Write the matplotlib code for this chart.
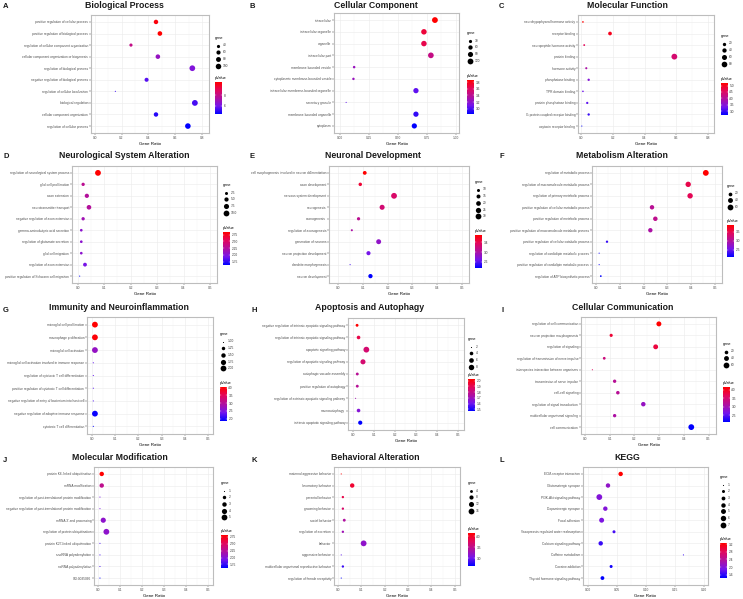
import numpy as np
import matplotlib.pyplot as plt
from matplotlib.colors import LinearSegmentedColormap, Normalize
from matplotlib.cm import ScalarMappable

plt.rcParams["font.family"] = ["Liberation Sans", "DejaVu Sans"]

W, H = 743, 599

# ── Data ──────────────────────────────────────────────────────────────────────
A_terms = ["positive regulation of cellular process", "positive regulation of biological process",
           "regulation of cellular component organization", "cellular component organization or biogenesis",
           "regulation of biological process", "negative regulation of biological process",
           "regulation of cellular localization", "biological regulation",
           "cellular component organization", "regulation of cellular process"]
A_ratio = [0.456, 0.485, 0.27, 0.47, 0.726, 0.386, 0.154, 0.745, 0.456, 0.693]
A_gene = [67, 72, 40, 70, 107, 57, 23, 110, 67, 102]
A_pval = [10.2, 10.4, 8.0, 6.8, 6.3, 5.6, 5.3, 5.4, 5.0, 4.5]

B_terms = ["intracellular", "intracellular organelle", "organelle", "intracellular part",
           "membrane-bounded vesicle", "cytoplasmic membrane-bounded vesicle",
           "intracellular membrane-bounded organelle", "secretory granule",
           "membrane-bounded organelle", "cytoplasm"]
B_ratio = [0.822, 0.727, 0.727, 0.787, 0.124, 0.118, 0.658, 0.055, 0.658, 0.644]
B_gene = [119, 105, 105, 114, 18, 17, 95, 8, 95, 93]
B_pval = [3.86, 3.7, 3.65, 3.45, 3.25, 3.25, 3.05, 3.05, 2.95, 2.84]

C_terms = ["neurohypophyseal hormone activity", "receptor binding", "neuropeptide hormone activity",
           "protein binding", "hormone activity", "phosphatase binding", "TPR domain binding",
           "protein phosphatase binding", "G-protein coupled receptor binding", "oxytocin receptor binding"]
C_ratio = [0.013, 0.183, 0.021, 0.587, 0.034, 0.049, 0.013, 0.040, 0.049, 0.006]
C_gene = [2, 27, 3, 85, 5, 7, 2, 6, 7, 1]
C_pval = [5.2, 5.0, 4.6, 4.4, 3.9, 3.5, 3.3, 3.2, 3.0, 2.7]

D_terms = ["regulation of neurological system process", "glial cell proliferation", "axon extension",
           "neurotransmitter transport", "negative regulation of axon extension",
           "gamma-aminobutyric acid secretion", "regulation of glutamate secretion",
           "glial cell migration", "regulation of axon extension",
           "positive regulation of Schwann cell migration"]
D_ratio = [0.077, 0.021, 0.035, 0.043, 0.021, 0.014, 0.014, 0.014, 0.028, 0.008]
D_gene = [10, 3, 5, 6, 3, 2, 2, 2, 4, 1]
D_pval = [2.85, 2.3, 2.25, 2.25, 2.15, 2.05, 2.05, 2.05, 1.95, 1.62]

E_terms = ["cell morphogenesis involved in neuron differentiation", "axon development",
           "nervous system development", "neurogenesis", "axonogenesis", "regulation of axonogenesis",
           "generation of neurons", "neuron projection development", "dendrite morphogenesis",
           "neuron development"]
E_ratio = [0.108, 0.090, 0.226, 0.178, 0.083, 0.056, 0.164, 0.123, 0.049, 0.131]
E_gene = [14, 12, 30, 23, 11, 7, 22, 16, 6, 17]
E_pval = [3.7, 3.5, 3.3, 3.25, 3.1, 3.0, 2.85, 2.7, 2.55, 2.35]

F_terms = ["regulation of metabolic process", "regulation of macromolecule metabolic process",
           "regulation of primary metabolic process", "positive regulation of cellular metabolic process",
           "positive regulation of metabolic process", "positive regulation of macromolecule metabolic process",
           "positive regulation of cellular catabolic process", "regulation of cardiolipin metabolic process",
           "positive regulation of cardiolipin metabolic process", "regulation of ATP biosynthetic process"]
F_ratio = [0.461, 0.387, 0.395, 0.235, 0.249, 0.228, 0.046, 0.013, 0.013, 0.020]
F_gene = [60, 50, 51, 31, 32, 30, 6, 2, 2, 3]
F_pval = [3.86, 3.5, 3.45, 3.05, 3.1, 2.95, 2.3, 2.15, 2.15, 2.1]

G_terms = ["microglial cell proliferation", "macrophage proliferation", "microglial cell activation",
           "microglial cell activation involved in immune response",
           "regulation of cytotoxic T cell differentiation",
           "positive regulation of cytotoxic T cell differentiation",
           "negative regulation of entry of bacterium into host cell",
           "negative regulation of adaptive immune response", "cytotoxic T cell differentiation"]
G_ratio = [0.014, 0.014, 0.014, 0.007, 0.007, 0.007, 0.007, 0.014, 0.007]
G_gene = [2, 2, 2, 1, 1, 1, 1, 2, 1]
G_pval = [4.05, 4.0, 2.7, 2.3, 2.3, 2.25, 2.2, 1.9, 1.85]

H_terms = ["negative regulation of intrinsic apoptotic signaling pathway",
           "regulation of intrinsic apoptotic signaling pathway", "apoptotic signaling pathway",
           "regulation of apoptotic signaling pathway", "autophagic vacuole assembly",
           "positive regulation of autophagy", "regulation of extrinsic apoptotic signaling pathway",
           "macroautophagy", "intrinsic apoptotic signaling pathway"]
H_ratio = [0.021, 0.028, 0.065, 0.049, 0.022, 0.022, 0.014, 0.028, 0.036]
H_gene = [3, 4, 9, 7, 3, 3, 2, 4, 5]
H_pval = [2.03, 1.92, 1.85, 1.85, 1.77, 1.77, 1.72, 1.65, 1.47]

I_terms = ["regulation of cell communication", "neuron projection morphogenesis", "regulation of signaling",
           "regulation of transmission of nerve impulse", "interspecies interaction between organisms",
           "transmission of nerve impulse", "cell-cell signaling", "regulation of signal transduction",
           "multicellular organismal signaling", "cell communication"]
I_ratio = [0.299, 0.106, 0.286, 0.078, 0.030, 0.120, 0.133, 0.236, 0.120, 0.430]
I_gene = [42, 15, 40, 11, 4, 17, 19, 33, 17, 60]
I_pval = [4.15, 3.85, 3.8, 3.4, 3.6, 3.2, 3.2, 2.9, 3.1, 2.1]

J_terms = ["protein K6-linked ubiquitination", "mRNA modification",
           "regulation of post-translational protein modification",
           "negative regulation of post-translational protein modification", "mRNA 3'-end processing",
           "regulation of protein ubiquitination", "protein K27-linked ubiquitination",
           "snoRNA polyadenylation", "ncRNA polyadenylation", "GO:0035066"]
J_ratio = [0.017, 0.017, 0.009, 0.009, 0.024, 0.038, 0.009, 0.009, 0.009, 0.009]
J_gene = [3, 3, 1, 1, 4, 5, 1, 1, 1, 1]
J_pval = [2.82, 2.3, 1.95, 1.95, 2.05, 2.05, 1.8, 1.8, 1.8, 1.62]

K_terms = ["maternal aggressive behavior", "locomotory behavior", "parental behavior",
           "grooming behavior", "social behavior", "regulation of excretion", "behavior",
           "aggressive behavior", "multicellular organismal reproductive behavior",
           "regulation of female receptivity"]
K_ratio = [0.014, 0.061, 0.021, 0.021, 0.027, 0.021, 0.110, 0.014, 0.021, 0.014]
K_gene = [2, 9, 3, 3, 4, 3, 16, 2, 3, 2]
K_pval = [4.15, 3.95, 3.85, 3.7, 3.4, 3.3, 3.2, 2.95, 2.85, 2.66]

L_terms = ["ECM-receptor interaction", "Glutamatergic synapse", "PI3K-Akt signaling pathway",
           "Dopaminergic synapse", "Focal adhesion", "Vasopressin-regulated water reabsorption",
           "Calcium signaling pathway", "Caffeine metabolism", "Cocaine addiction",
           "Thyroid hormone signaling pathway"]
L_ratio = [0.0565, 0.0346, 0.0196, 0.030, 0.0236, 0.045, 0.022, 0.165, 0.040, 0.025]
L_gene = [4, 4, 7, 4, 5, 2, 4, 1, 2, 3]
L_pval = [3.27, 2.1, 2.0, 2.0, 1.95, 1.7, 1.65, 1.65, 1.5, 1.42]

ticks_08 = [0.0, 0.2, 0.4, 0.6, 0.8]
ticks_05 = [0.0, 0.1, 0.2, 0.3, 0.4, 0.5]

# ── Layout per panel (pixel coords) ───────────────────────────────────────────
panels = [
    dict(letter="A", title="Biological Process", terms=A_terms, ratio=A_ratio, gene=A_gene, pval=A_pval,
         box=(91, 15, 209, 133), xlim=(-0.027, 0.85), xticks=ticks_08, fmt="{:.1f}",
         size_br=[40, 60, 80, 100], sfmt="{:g}", p_br=[6, 8], pfmt="{:g}",
         leg_x=215, gene_y=38, cbar=(82, 114), title_xy=(124, 6), letter_xy=(3, 7)),
    dict(letter="B", title="Cellular Component", terms=B_terms, ratio=B_ratio, gene=B_gene, pval=B_pval,
         box=(334, 13, 459, 133), xlim=(-0.05, 1.03), xticks=[0, 0.25, 0.5, 0.75, 1.0], fmt="{:.2f}",
         size_br=[30, 60, 90, 120], sfmt="{:g}", p_br=[3.0, 3.2, 3.4, 3.6, 3.8], pfmt="{:.1f}",
         leg_x=467, gene_y=33, cbar=(80, 114), title_xy=(376, 6), letter_xy=(250, 7)),
    dict(letter="C", title="Molecular Function", terms=C_terms, ratio=C_ratio, gene=C_gene, pval=C_pval,
         box=(578, 15, 714, 133), xlim=(-0.018, 0.836), xticks=ticks_08, fmt="{:.1f}",
         size_br=[20, 40, 60, 80], sfmt="{:g}", p_br=[3.0, 3.5, 4.0, 4.5, 5.0], pfmt="{:.1f}",
         leg_x=721, gene_y=36, cbar=(83, 115), title_xy=(627, 6), letter_xy=(499, 7)),
    dict(letter="D", title="Neurological System Alteration", terms=D_terms, ratio=D_ratio, gene=D_gene,
         pval=D_pval, box=(72, 166, 217, 283), xlim=(-0.021, 0.526), xticks=ticks_05, fmt="{:.1f}",
         size_br=[2.5, 5.0, 7.5, 10.0], sfmt="{:.1f}", p_br=[1.75, 2.0, 2.25, 2.5, 2.75], pfmt="{:.2f}",
         leg_x=223, gene_y=185, cbar=(232, 265), title_xy=(124, 156), letter_xy=(3, 157)),
    dict(letter="E", title="Neuronal Development", terms=E_terms, ratio=E_ratio, gene=E_gene, pval=E_pval,
         box=(329, 166, 469, 283), xlim=(-0.036, 0.528), xticks=ticks_05, fmt="{:.1f}",
         size_br=[10, 15, 20, 25, 30], sfmt="{:g}", p_br=[2.6, 3.0, 3.4], pfmt="{:.1f}",
         leg_x=475, gene_y=182, cbar=(235, 268), title_xy=(373, 156), letter_xy=(250, 157)),
    dict(letter="F", title="Metabolism Alteration", terms=F_terms, ratio=F_ratio, gene=F_gene, pval=F_pval,
         box=(592, 166, 722, 283), xlim=(-0.017, 0.529), xticks=ticks_05, fmt="{:.1f}",
         size_br=[20, 40, 60], sfmt="{:g}", p_br=[2.5, 3.0, 3.5], pfmt="{:.1f}",
         leg_x=727, gene_y=186, cbar=(225, 257), title_xy=(622, 156), letter_xy=(500, 157)),
    dict(letter="G", title="Immunity and Neuroinflammation", terms=G_terms, ratio=G_ratio, gene=G_gene,
         pval=G_pval, box=(87, 317, 213, 434), xlim=(-0.02, 0.52), xticks=ticks_05, fmt="{:.1f}",
         size_br=[1.0, 1.25, 1.5, 1.75, 2.0], sfmt="{:.2f}", p_br=[2.0, 2.5, 3.0, 3.5, 4.0], pfmt="{:.1f}",
         leg_x=220, gene_y=334, cbar=(387, 421), title_xy=(119, 307), letter_xy=(3, 310)),
    dict(letter="H", title="Apoptosis and Autophagy", terms=H_terms, ratio=H_ratio, gene=H_gene,
         pval=H_pval, box=(348, 318, 464, 430), xlim=(-0.022, 0.528), xticks=ticks_05, fmt="{:.1f}",
         size_br=[2, 4, 6, 8], sfmt="{:g}", p_br=[1.5, 1.6, 1.7, 1.8, 1.9, 2.0], pfmt="{:.1f}",
         leg_x=468, gene_y=339, cbar=(379, 411), title_xy=(370, 307), letter_xy=(252, 310)),
    dict(letter="I", title="Cellular Communication", terms=I_terms, ratio=I_ratio, gene=I_gene,
         pval=I_pval, box=(581, 317, 716, 434), xlim=(-0.016, 0.53), xticks=ticks_05, fmt="{:.1f}",
         size_br=[20, 40, 60], sfmt="{:g}", p_br=[2.5, 3.0, 3.5, 4.0], pfmt="{:.1f}",
         leg_x=723, gene_y=344, cbar=(387, 422), title_xy=(623, 307), letter_xy=(502, 310)),
    dict(letter="J", title="Molecular Modification", terms=J_terms, ratio=J_ratio, gene=J_gene,
         pval=J_pval, box=(94, 467, 213, 585), xlim=(-0.018, 0.521), xticks=ticks_05, fmt="{:.1f}",
         size_br=[1, 2, 3, 4, 5], sfmt="{:g}", p_br=[1.75, 2.0, 2.25, 2.5, 2.75], pfmt="{:.2f}",
         leg_x=221, gene_y=483, cbar=(535, 568), title_xy=(120, 458), letter_xy=(3, 460)),
    dict(letter="K", title="Behavioral Alteration", terms=K_terms, ratio=K_ratio, gene=K_gene,
         pval=K_pval, box=(334, 467, 460, 585), xlim=(-0.017, 0.523), xticks=ticks_05, fmt="{:.1f}",
         size_br=[4, 8, 12, 16], sfmt="{:g}", p_br=[3.0, 3.5, 4.0], pfmt="{:.1f}",
         leg_x=468, gene_y=483, cbar=(533, 566), title_xy=(375, 458), letter_xy=(252, 460)),
    dict(letter="L", title="KEGG", terms=L_terms, ratio=L_ratio, gene=L_gene, pval=L_pval,
         box=(583, 467, 708, 585), xlim=(-0.0086, 0.2075), xticks=[0, 0.05, 0.1, 0.15, 0.2], fmt="{:.2f}",
         size_br=[1, 2, 3, 4, 5, 6, 7], sfmt="{:g}", p_br=[1.6, 2.0, 2.4, 2.8, 3.2], pfmt="{:.1f}",
         leg_x=720, gene_y=477, cbar=(543, 578), title_xy=(627, 458), letter_xy=(500, 460)),
]

# ggplot-like blue -> red gradient (Lab-ish midpoints)
cmap = LinearSegmentedColormap.from_list(
    "bluered", [(0, "#0000FF"), (0.25, "#7415EC"), (0.5, "#B0109F"), (0.75, "#E2075C"), (1, "#FF0000")])

D_MIN, D_MAX = 1.1, 5.8  # point diameters in px


def size_of(g, lo, hi):
    g = np.asarray(g, dtype=float)
    t = np.clip((g - lo) / (hi - lo), 0, 1) if hi > lo else np.ones_like(g)
    d = D_MIN + (D_MAX - D_MIN) * np.sqrt(t)
    return (d * 72 / 100) ** 2


fig = plt.figure(figsize=(W / 100, H / 100), dpi=100)
ov = fig.add_axes([0, 0, 1, 1], zorder=5)
ov.set_xlim(0, W)
ov.set_ylim(H, 0)
ov.axis("off")

for p in panels:
    l, t, r, b = p["box"]
    ax = fig.add_axes([l / W, 1 - b / H, (r - l) / W, (b - t) / H])
    n = len(p["terms"])
    y = np.arange(n)[::-1]
    lo, hi = min(p["gene"]), max(p["gene"])
    norm = Normalize(min(p["pval"]), max(p["pval"]))
    ax.scatter(p["ratio"], y, s=size_of(p["gene"], lo, hi), c=p["pval"], cmap=cmap, norm=norm,
               linewidths=0, zorder=3)
    ax.set_xlim(*p["xlim"])
    ax.set_ylim(-0.6, n - 0.4)
    ax.set_yticks(y)
    ax.set_yticklabels(p["terms"])
    xt = p["xticks"]
    ax.set_xticks(xt)
    ax.set_xticklabels([p["fmt"].format(v) for v in xt])
    ax.set_xticks([(a + c) / 2 for a, c in zip(xt[:-1], xt[1:])], minor=True)
    ax.grid(True, which="major", color="#EBEBEB", linewidth=0.4)
    ax.grid(True, which="minor", axis="x", color="#F4F4F4", linewidth=0.3)
    ax.set_axisbelow(True)
    ax.tick_params(labelsize=2.3, labelcolor="#4D4D4D", color="#333333", length=1.2, width=0.3, pad=0.8)
    ax.tick_params(which="minor", length=0)
    for s in ax.spines.values():
        s.set_color("#BDBDBD")
        s.set_linewidth(0.8)
    ax.set_xlabel("Gene Ratio", fontsize=3.2, labelpad=1.5)

    # title & letter
    tx, ty = p["title_xy"]
    ov.text(tx, ty, p["title"], ha="center", va="center", fontsize=6.3, fontweight="bold", color="#1A1A1A")
    lx, ly = p["letter_xy"]
    ov.text(lx, ly, p["letter"], ha="left", va="center", fontsize=5.5, fontweight="bold", color="#1A1A1A")

    # gene size legend
    gx, gy = p["leg_x"], p["gene_y"]
    ov.text(gx, gy, "gene", fontsize=2.8, ha="left", va="center")
    for i, v in enumerate(p["size_br"]):
        yy = gy + 7.5 + i * 6.7
        ov.scatter([gx + 2.5], [yy], s=size_of([v], lo, hi), color="black", linewidths=0)
        ov.text(gx + 8, yy, p["sfmt"].format(v), fontsize=2.3, ha="left", va="center", color="#333333")

    # pValue colourbar
    ct, cb = p["cbar"]
    ov.text(gx, ct - 4, "pValue", fontsize=2.8, ha="left", va="center")
    cax = fig.add_axes([gx / W, 1 - cb / H, 7 / W, (cb - ct) / H], zorder=6)
    cbar = fig.colorbar(ScalarMappable(norm=norm, cmap=cmap), cax=cax)
    cbar.outline.set_visible(False)
    cbar.set_ticks(p["p_br"])
    cbar.set_ticklabels([p["pfmt"].format(v) for v in p["p_br"]])
    cax.tick_params(labelsize=2.3, length=0, pad=1, labelcolor="#333333")
    for v in p["p_br"]:
        cax.axhline(v, xmin=0, xmax=0.2, color="white", linewidth=0.3)
        cax.axhline(v, xmin=0.8, xmax=1, color="white", linewidth=0.3)

fig.savefig("out.png", dpi=100)
